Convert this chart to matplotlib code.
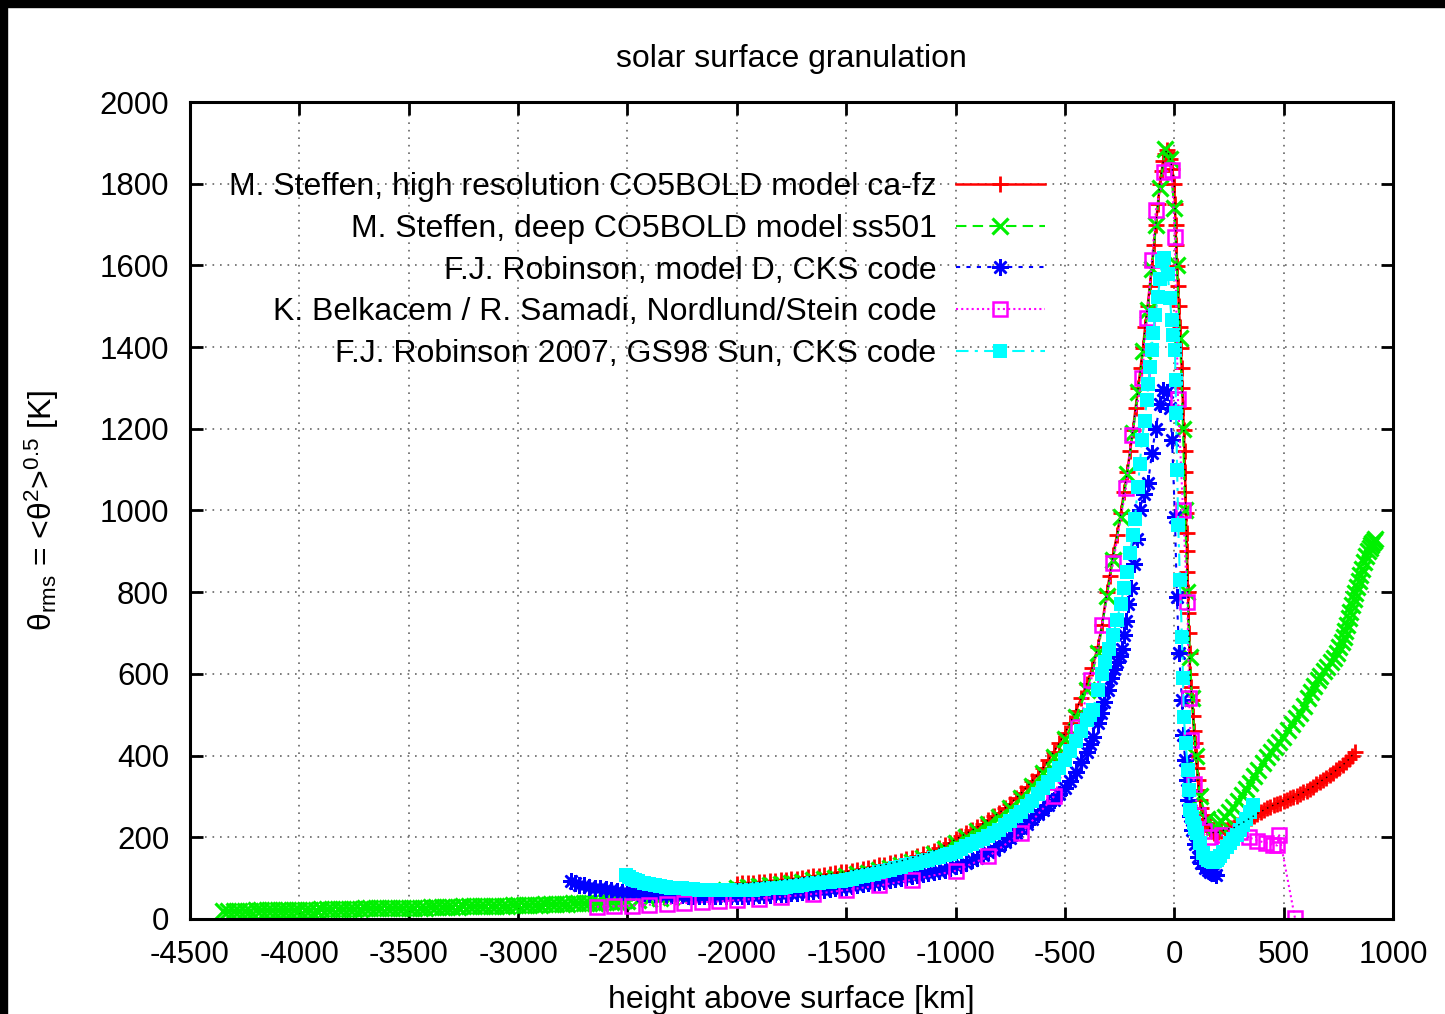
import numpy as np
import matplotlib.pyplot as plt
from matplotlib.patches import Rectangle

plt.rcParams['font.family'] = ['Liberation Sans', 'DejaVu Sans']
plt.rcParams['mathtext.fontset'] = 'custom'
plt.rcParams['mathtext.rm'] = 'Liberation Sans'
plt.rcParams['mathtext.it'] = 'Liberation Sans'
plt.rcParams['axes.unicode_minus'] = False

# M. Steffen, high resolution CO5BOLD model ca-fz  (height [km], theta_rms [K])
cafz = [(-2000, 86), (-1975, 87), (-1950, 88), (-1925, 89), (-1900, 90), (-1875, 91),
        (-1850, 93), (-1825, 94), (-1800, 95), (-1775, 96), (-1750, 98), (-1725, 99),
        (-1700, 101), (-1675, 103), (-1650, 105), (-1625, 106), (-1600, 108), (-1575, 110),
        (-1550, 112), (-1525, 114), (-1500, 116), (-1475, 118), (-1450, 121), (-1425, 123),
        (-1400, 126), (-1375, 128), (-1350, 131), (-1325, 133), (-1300, 136), (-1275, 139),
        (-1250, 142), (-1225, 146), (-1200, 150), (-1175, 154), (-1150, 158), (-1125, 162),
        (-1100, 167), (-1075, 173), (-1050, 180), (-1025, 187), (-1000, 195), (-975, 202),
        (-950, 210), (-925, 217), (-900, 225), (-875, 233), (-850, 242), (-825, 251),
        (-800, 260), (-775, 271), (-750, 282), (-725, 295), (-700, 308), (-675, 323),
        (-650, 338), (-625, 353), (-600, 370), (-575, 390), (-550, 410), (-525, 432),
        (-500, 455), (-475, 481), (-450, 510), (-425, 540), (-400, 575), (-375, 615),
        (-350, 665), (-330, 720), (-308, 800), (-295, 840), (-280, 890), (-262, 940),
        (-244, 994), (-230, 1045), (-215, 1095), (-202, 1145), (-189, 1197), (-177, 1250),
        (-165, 1300), (-154, 1350), (-143, 1398), (-133, 1450), (-122, 1500), (-112, 1550),
        (-102, 1598), (-93, 1650), (-84, 1700), (-75, 1750), (-66, 1800), (-58, 1830),
        (-50, 1855), (-42, 1872), (-35, 1882), (-27, 1875), (-18, 1860), (-9, 1835),
        (0, 1800), (3, 1750), (6, 1700), (9, 1650), (12, 1598), (17, 1550), (21, 1500),
        (26, 1450), (30, 1398), (34, 1350), (37, 1300), (40, 1250), (44, 1197), (47, 1145),
        (49, 1095), (51, 1045), (53, 994), (56, 945), (58, 900), (60, 850), (62, 800),
        (65, 750), (67, 700), (70, 650), (72, 600), (76, 568), (81, 536), (86, 498),
        (90, 460), (95, 430), (99, 400), (104, 370), (108, 340), (112, 315), (117, 291),
        (124, 272), (130, 255), (139, 245), (148, 235), (157, 227), (165, 220), (172, 215),
        (180, 210), (190, 210), (200, 212), (215, 215), (230, 218), (245, 220), (260, 222),
        (275, 224), (290, 229), (305, 234), (320, 238), (335, 243), (350, 248), (365, 253),
        (380, 258), (395, 262), (410, 267), (424, 271), (440, 275), (455, 279), (470, 282),
        (485, 285), (500, 289), (515, 292), (530, 295), (545, 298), (560, 302), (575, 306),
        (590, 310), (605, 314), (620, 319), (635, 324), (650, 330), (665, 335), (680, 341),
        (695, 346), (710, 352), (725, 358), (740, 364), (755, 370), (770, 377), (785, 384),
        (800, 392), (812, 400), (825, 408)]

# M. Steffen, deep CO5BOLD model ss501
ss501 = [(-4350, 19), (-4325, 19), (-4300, 20), (-4275, 20), (-4250, 20), (-4225, 20),
         (-4200, 21), (-4175, 21), (-4150, 21), (-4125, 21), (-4100, 22), (-4075, 22),
         (-4050, 22), (-4025, 22), (-4000, 23), (-3975, 23), (-3950, 23), (-3925, 23),
         (-3900, 24), (-3875, 24), (-3850, 24), (-3825, 24), (-3800, 25), (-3775, 25),
         (-3750, 25), (-3725, 25), (-3700, 26), (-3675, 26), (-3650, 26), (-3625, 26),
         (-3600, 27), (-3575, 27), (-3550, 27), (-3525, 27), (-3500, 28), (-3475, 28),
         (-3450, 28), (-3425, 28), (-3400, 29), (-3375, 29), (-3350, 29), (-3325, 30),
         (-3300, 30), (-3275, 30), (-3250, 31), (-3225, 31), (-3200, 31), (-3175, 32),
         (-3150, 32), (-3125, 32), (-3100, 33), (-3075, 33), (-3050, 33), (-3025, 34),
         (-3000, 34), (-2975, 34), (-2950, 35), (-2925, 35), (-2900, 35), (-2875, 36),
         (-2850, 36), (-2825, 37), (-2800, 37), (-2775, 37), (-2750, 38), (-2725, 38),
         (-2700, 39), (-2675, 39), (-2650, 40), (-2625, 40), (-2600, 41), (-2575, 41),
         (-2550, 42), (-2525, 43), (-2500, 44), (-2450, 46), (-2400, 48), (-2350, 51),
         (-2300, 54), (-2250, 57), (-2200, 60), (-2150, 63), (-2100, 67), (-2050, 71),
         (-2000, 75), (-1950, 78), (-1900, 80), (-1850, 83), (-1800, 85), (-1750, 88),
         (-1700, 91), (-1650, 95), (-1600, 98), (-1550, 101), (-1500, 105), (-1450, 109),
         (-1400, 113), (-1350, 119), (-1300, 125), (-1250, 132), (-1200, 140), (-1150, 149),
         (-1100, 158), (-1050, 171), (-1000, 185), (-950, 200), (-900, 215), (-850, 232),
         (-800, 250), (-750, 272), (-700, 297), (-650, 326), (-600, 358), (-550, 396),
         (-500, 440), (-450, 495), (-400, 560), (-350, 650), (-308, 790), (-280, 880),
         (-244, 985), (-215, 1090), (-189, 1190), (-166, 1290), (-143, 1390), (-122, 1490),
         (-102, 1590), (-84, 1700), (-66, 1790), (-41, 1885), (-20, 1860), (0, 1740),
         (12, 1600), (27, 1422), (40, 1200), (49, 1001), (60, 800), (72, 641), (81, 540),
         (99, 400), (117, 300), (150, 245), (180, 225), (200, 232), (215, 240), (230, 250),
         (250, 262), (269, 274), (290, 288), (310, 303), (328, 318), (346, 333), (365, 349),
         (385, 365), (405, 381), (424, 397), (442, 410), (460, 422), (478, 434), (497, 446),
         (518, 462), (540, 478), (558, 491), (575, 505), (593, 522), (610, 540), (625, 556),
         (640, 570), (655, 584), (668, 596), (684, 607), (700, 618), (715, 628), (729, 639),
         (742, 651), (755, 665), (765, 678), (774, 691), (782, 705), (790, 720), (798, 736),
         (805, 752), (813, 768), (820, 783), (828, 798), (835, 813), (843, 828), (850, 843),
         (858, 858), (866, 874), (876, 888), (885, 900), (893, 908), (900, 915), (906, 921),
         (912, 926), (918, 930)]

# F.J. Robinson, model D, CKS code
modelD = [(-2760, 92), (-2740, 87), (-2720, 84), (-2700, 82), (-2675, 79), (-2650, 77),
          (-2625, 75), (-2600, 73), (-2575, 71), (-2550, 69), (-2525, 67), (-2500, 66),
          (-2475, 65), (-2450, 64), (-2425, 63), (-2400, 62), (-2375, 61), (-2350, 60),
          (-2325, 59), (-2300, 59), (-2275, 58), (-2250, 58), (-2225, 57), (-2200, 57),
          (-2175, 57), (-2150, 57), (-2125, 56), (-2100, 56), (-2075, 56), (-2050, 56),
          (-2025, 56), (-2000, 56), (-1975, 56), (-1950, 57), (-1925, 57), (-1900, 58),
          (-1875, 58), (-1850, 59), (-1825, 60), (-1800, 61), (-1775, 62), (-1750, 63),
          (-1725, 64), (-1700, 66), (-1675, 67), (-1650, 69), (-1625, 70), (-1600, 72),
          (-1575, 73), (-1550, 75), (-1525, 77), (-1500, 79), (-1475, 81), (-1450, 83),
          (-1425, 85), (-1400, 87), (-1375, 89), (-1350, 91), (-1325, 93), (-1300, 96),
          (-1275, 98), (-1250, 100), (-1225, 102), (-1200, 105), (-1175, 107), (-1150, 110),
          (-1125, 112), (-1100, 115), (-1075, 118), (-1050, 121), (-1025, 125), (-1000, 129),
          (-975, 133), (-950, 138), (-925, 144), (-900, 150), (-875, 156), (-850, 163),
          (-825, 170), (-800, 178), (-775, 188), (-750, 198), (-725, 210), (-700, 222),
          (-675, 233), (-650, 245), (-625, 256), (-600, 268), (-575, 280), (-550, 292),
          (-525, 305), (-500, 320), (-475, 338), (-450, 360), (-425, 385), (-400, 410),
          (-386, 428), (-372, 445), (-350, 480), (-335, 505), (-320, 530), (-305, 560),
          (-290, 590), (-275, 612), (-260, 630), (-250, 645), (-240, 660), (-230, 695),
          (-220, 730), (-210, 770), (-200, 810), (-185, 870), (-170, 930), (-157, 1000),
          (-140, 1040), (-120, 1067), (-102, 1140), (-85, 1200), (-65, 1260), (-50, 1295),
          (-35, 1290), (-20, 1250), (-10, 1173), (3, 984), (12, 788), (22, 650), (35, 536),
          (42, 450), (49, 389), (56, 340), (63, 291), (72, 252), (81, 218), (95, 183),
          (108, 152), (124, 136), (140, 125), (152, 119), (165, 115), (177, 112), (190, 108)]

# K. Belkacem / R. Samadi, Nordlund/Stein code
nordlund = [(-2640, 30), (-2560, 31), (-2480, 33), (-2400, 35), (-2320, 37), (-2240, 39),
            (-2160, 41), (-2080, 43), (-2000, 46), (-1900, 50), (-1800, 54), (-1650, 61),
            (-1500, 71), (-1350, 82), (-1200, 96), (-1000, 118), (-850, 153), (-700, 210),
            (-550, 300), (-440, 470), (-380, 585), (-330, 720), (-280, 871), (-221, 1055),
            (-194, 1185), (-148, 1324), (-125, 1471), (-102, 1613), (-84, 1736), (-47, 1829),
            (-12, 1833), (3, 1670), (17, 1273), (40, 1000), (60, 776), (68, 540), (75, 438),
            (90, 330), (110, 255), (135, 215), (165, 201), (220, 205), (300, 212), (340, 200),
            (380, 192), (420, 186), (450, 182), (470, 180), (480, 205), (552, 2)]

# F.J. Robinson 2007, GS98 Sun, CKS code
gs98 = [(-2505, 108), (-2495, 102), (-2480, 98), (-2465, 95), (-2450, 92), (-2425, 88),
        (-2400, 85), (-2375, 82), (-2350, 80), (-2325, 78), (-2300, 77), (-2275, 76),
        (-2250, 75), (-2225, 74), (-2200, 73), (-2175, 72), (-2150, 72), (-2125, 71),
        (-2100, 71), (-2075, 71), (-2050, 71), (-2025, 71), (-2000, 71), (-1975, 71),
        (-1950, 72), (-1925, 72), (-1900, 73), (-1875, 74), (-1850, 75), (-1825, 76),
        (-1800, 77), (-1775, 78), (-1750, 80), (-1725, 81), (-1700, 83), (-1675, 85),
        (-1650, 87), (-1625, 88), (-1600, 90), (-1575, 91), (-1550, 93), (-1525, 94),
        (-1500, 96), (-1475, 99), (-1450, 102), (-1425, 105), (-1400, 108), (-1375, 111),
        (-1350, 115), (-1325, 118), (-1300, 121), (-1275, 124), (-1250, 128), (-1225, 131),
        (-1200, 135), (-1175, 138), (-1150, 142), (-1125, 145), (-1100, 149), (-1075, 152),
        (-1050, 156), (-1025, 160), (-1000, 165), (-975, 171), (-950, 178), (-925, 184),
        (-900, 190), (-875, 196), (-850, 203), (-825, 210), (-800, 218), (-775, 229),
        (-750, 240), (-725, 251), (-700, 263), (-675, 276), (-650, 290), (-625, 305),
        (-600, 320), (-575, 336), (-550, 352), (-525, 370), (-500, 390), (-475, 412),
        (-450, 435), (-425, 460), (-400, 487), (-386, 499), (-372, 511), (-350, 560),
        (-330, 600), (-315, 630), (-300, 660), (-280, 695), (-262, 732), (-245, 770),
        (-230, 810), (-215, 850), (-202, 896), (-190, 940), (-180, 980), (-166, 1058),
        (-157, 1115), (-148, 1173), (-136, 1220), (-125, 1270), (-118, 1310), (-111, 1351),
        (-104, 1392), (-97, 1434), (-86, 1478), (-75, 1523), (-65, 1567), (-55, 1610),
        (-45, 1618), (-30, 1580), (-20, 1520), (-12, 1466), (-4, 1430), (3, 1393), (6, 1320),
        (8, 1239), (13, 1100), (18, 965), (26, 830), (35, 690), (40, 590), (44, 494),
        (52, 430), (63, 365), (68, 315), (72, 267), (80, 250), (90, 235), (96, 222),
        (103, 210), (117, 185), (131, 161), (143, 150), (155, 145), (166, 142), (177, 140),
        (186, 142), (195, 145), (202, 150), (210, 155), (225, 165), (240, 176), (255, 185),
        (270, 195), (285, 206), (300, 218), (315, 231), (330, 245), (345, 261), (360, 278)]

labels = ['M. Steffen, high resolution CO5BOLD model ca-fz',
          'M. Steffen, deep CO5BOLD model ss501',
          'F.J. Robinson, model D, CKS code',
          'K. Belkacem / R. Samadi, Nordlund/Stein code',
          'F.J. Robinson 2007, GS98 Sun, CKS code']

fig = plt.figure(figsize=(14.45, 10.14), dpi=100)
ax = fig.add_axes([0.1315, 0.0937, 0.8325, 0.8057])

x, y = np.array(cafz).T
ax.plot(x, y, color='red', lw=1.8, ls='-', marker='+', ms=11, mew=2, label=labels[0])
ax.plot(x, y, color='black', lw=1.0, ls=(0, (1, 3)), zorder=2.5)
x, y = np.array(ss501).T
ax.plot(x, y, color='#00f000', lw=1.5, ls=(0, (5, 3)), marker='x', ms=11, mew=2.3, label=labels[1])
x, y = np.array(modelD).T
ax.plot(x, y, color='blue', lw=1.5, ls=(0, (2, 3)), marker=(8, 2, 0), ms=12, mew=1.8, label=labels[2])
x, y = np.array(nordlund).T
ax.plot(x, y, color='magenta', lw=1.5, ls=(0, (1, 1.5)), marker='s', ms=10, mew=1.8,
        mfc='none', label=labels[3])
x, y = np.array(gs98).T
ax.plot(x, y, color='cyan', lw=1.5, ls=(0, (6, 3, 1.5, 3)), marker='s', ms=10.5, mew=0,
        label=labels[4])

ax.set_xlim(-4500, 1000)
ax.set_ylim(0, 2000)
ax.set_xticks(np.arange(-4500, 1001, 500))
ax.set_yticks(np.arange(0, 2001, 200))
ax.grid(True, color='0.4', ls=(0, (1, 3.5)), lw=1.2)
ax.tick_params(direction='in', length=9, width=2, top=True, right=True,
               labelsize=22.5, pad=15)
for s in ax.spines.values():
    s.set_linewidth(2.2)

ax.set_title('solar surface granulation', fontsize=23, pad=25)
ax.set_xlabel('height above surface [km]', fontsize=23, labelpad=11)
ax.set_ylabel(r'θ$_{\rm rms}$ = <θ$^2$>$^{0.5}$ [K]', fontsize=23, labelpad=28)

ax.legend(loc='upper right', bbox_to_anchor=(1045 / 1445, 1 - 172 / 1014),
          bbox_transform=fig.transFigure, frameon=False, markerfirst=False,
          fontsize=23, handlelength=2.8, handletextpad=0.6, labelspacing=0.37,
          numpoints=1, borderpad=0, borderaxespad=0)

# dark strips along the top and left edges
fig.patches.append(Rectangle((0, 1 - 7 / 1014), 1, 7 / 1014, transform=fig.transFigure,
                             color='black', zorder=10))
fig.patches.append(Rectangle((0, 0), 7 / 1445, 1, transform=fig.transFigure,
                             color='black', zorder=10))

fig.savefig('out.png', dpi=100)
